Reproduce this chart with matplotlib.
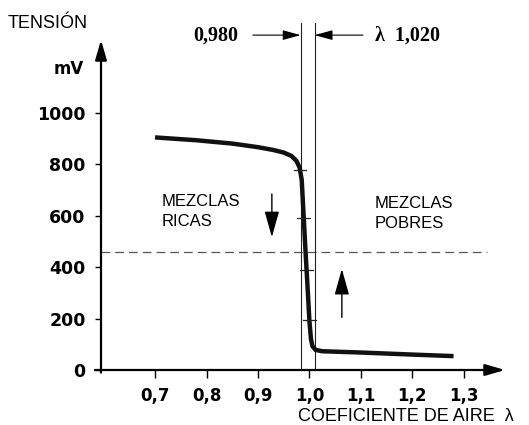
import numpy as np
import matplotlib
matplotlib.use("Agg")
import matplotlib.pyplot as plt

# sensor curve (lambda, mV)
lam = [0.70, 0.78, 0.85, 0.90, 0.93, 0.95, 0.965, 0.975, 0.981, 0.985, 0.989, 0.993,
       0.997, 1.000, 1.003, 1.006, 1.012, 1.025, 1.10, 1.20, 1.28]
mv = [905, 894, 881, 867, 856, 846, 833, 813, 787, 740, 590, 440,
      300, 190, 120, 92, 78, 73, 68, 60, 54]

lam_rich = 0.983     # marked as 0,980
lam_lean = 1.010     # marked as 1,020
threshold_mv = 460
curve_marks = [780, 590, 390, 195]

xticks = [0.7, 0.8, 0.9, 1.0, 1.1, 1.2, 1.3]
xlabels = ["0,7", "0,8", "0,9", "1,0", "1,1", "1,2", "1,3"]
yticks = [0, 200, 400, 600, 800, 1000]

SANS = "Liberation Sans"
SERIF = "Liberation Serif"

fig = plt.figure(figsize=(5.29, 4.25), dpi=100)
ax = fig.add_axes([101/529, 55/425, 404/529, 330/425])
ax.set_xlim(0.595, 1.38)
ax.set_ylim(0, 1284)
for s in ax.spines.values():
    s.set_visible(False)

# axes with arrow heads
ax.annotate("", xy=(1, 0), xytext=(-0.015, 0), xycoords="axes fraction",
            arrowprops=dict(arrowstyle="-|>,head_length=1.2,head_width=0.35", lw=1.6,
                            color="black", shrinkA=0, shrinkB=0, mutation_scale=10))
ax.annotate("", xy=(0, 1), xytext=(0, -0.008), xycoords="axes fraction",
            arrowprops=dict(arrowstyle="-|>,head_length=1.2,head_width=0.35", lw=1.6,
                            color="black", shrinkA=0, shrinkB=0, mutation_scale=10))

ax.set_xticks(xticks)
ax.set_xticklabels(xlabels, fontfamily="DejaVu Sans", fontweight="bold", fontsize=12)
ax.set_yticks(yticks)
ax.set_yticklabels([str(v) for v in yticks], fontfamily="DejaVu Sans", fontweight="bold", fontsize=12.5)
ax.tick_params(axis="x", direction="out", length=6, width=1, pad=6)
ax.tick_params(axis="y", direction="out", length=4, width=1, pad=7)

# curve
ax.plot(lam, mv, color="#111111", lw=3.2, solid_capstyle="butt", solid_joinstyle="round", zorder=3)

# small marks on the steep part
seg = slice(7, 17)
for m in curve_marks:
    xc = np.interp(m, mv[seg][::-1], lam[seg][::-1])
    ax.plot([xc - 0.0125, xc + 0.0125], [m, m], color="#222222", lw=0.9, zorder=4)

# window lines
for xv in (lam_rich, lam_lean):
    ax.plot([xv, xv], [0, 1350], color="#222222", lw=0.8, clip_on=False, zorder=2)

# threshold
ax.plot([0.595, 1.345], [threshold_mv, threshold_mv], color="#555555", lw=0.9,
        dashes=(7, 4), zorder=1)

# direction arrows
ax.annotate("", xy=(0.927, 517), xytext=(0.927, 685),
            arrowprops=dict(arrowstyle="-|>,head_length=1.6,head_width=0.45", lw=1.0,
                            color="black", shrinkA=0, shrinkB=0, mutation_scale=10))
ax.annotate("", xy=(1.063, 393), xytext=(1.063, 205),
            arrowprops=dict(arrowstyle="-|>,head_length=1.6,head_width=0.45", lw=1.0,
                            color="black", shrinkA=0, shrinkB=0, mutation_scale=10))

# window arrows on top
for x0, x1 in ((0.890, lam_rich), (1.104, lam_lean)):
    ax.annotate("", xy=(x1, 1303), xytext=(x0, 1303), annotation_clip=False,
                arrowprops=dict(arrowstyle="-|>,head_length=1.1,head_width=0.3", lw=0.8,
                                color="black", shrinkA=0, shrinkB=0, mutation_scale=10))
ax.text(0.861, 1303, "0,980", ha="right", va="center", fontfamily=SERIF,
        fontweight="bold", fontsize=14.5, clip_on=False)
ax.text(1.127, 1303, "λ  1,020", ha="left", va="center", fontfamily=SERIF,
        fontweight="bold", fontsize=14.5, clip_on=False)

# region labels
ax.text(0.7136, 638, "MEZCLAS", ha="left", va="baseline", fontfamily=SANS, fontsize=12)
ax.text(0.7136, 560, "RICAS", ha="left", va="baseline", fontfamily=SANS, fontsize=12)
ax.text(1.127, 630, "MEZCLAS", ha="left", va="baseline", fontfamily=SANS, fontsize=12)
ax.text(1.127, 553, "POBRES", ha="left", va="baseline", fontfamily=SANS, fontsize=12)

# axis titles
fig.text(8/529, 1 - 28/425, "TENSIÓN", ha="left", va="baseline", fontfamily=SANS, fontsize=13)
fig.text(84/529, 1 - 74/425, "mV", ha="right", va="baseline", fontfamily="DejaVu Sans",
         fontweight="bold", fontsize=12)
fig.text(298/529, 1 - 421/425, "COEFICIENTE DE AIRE  λ", ha="left", va="baseline",
         fontfamily=SANS, fontsize=13)

fig.savefig("out.png", dpi=100)
